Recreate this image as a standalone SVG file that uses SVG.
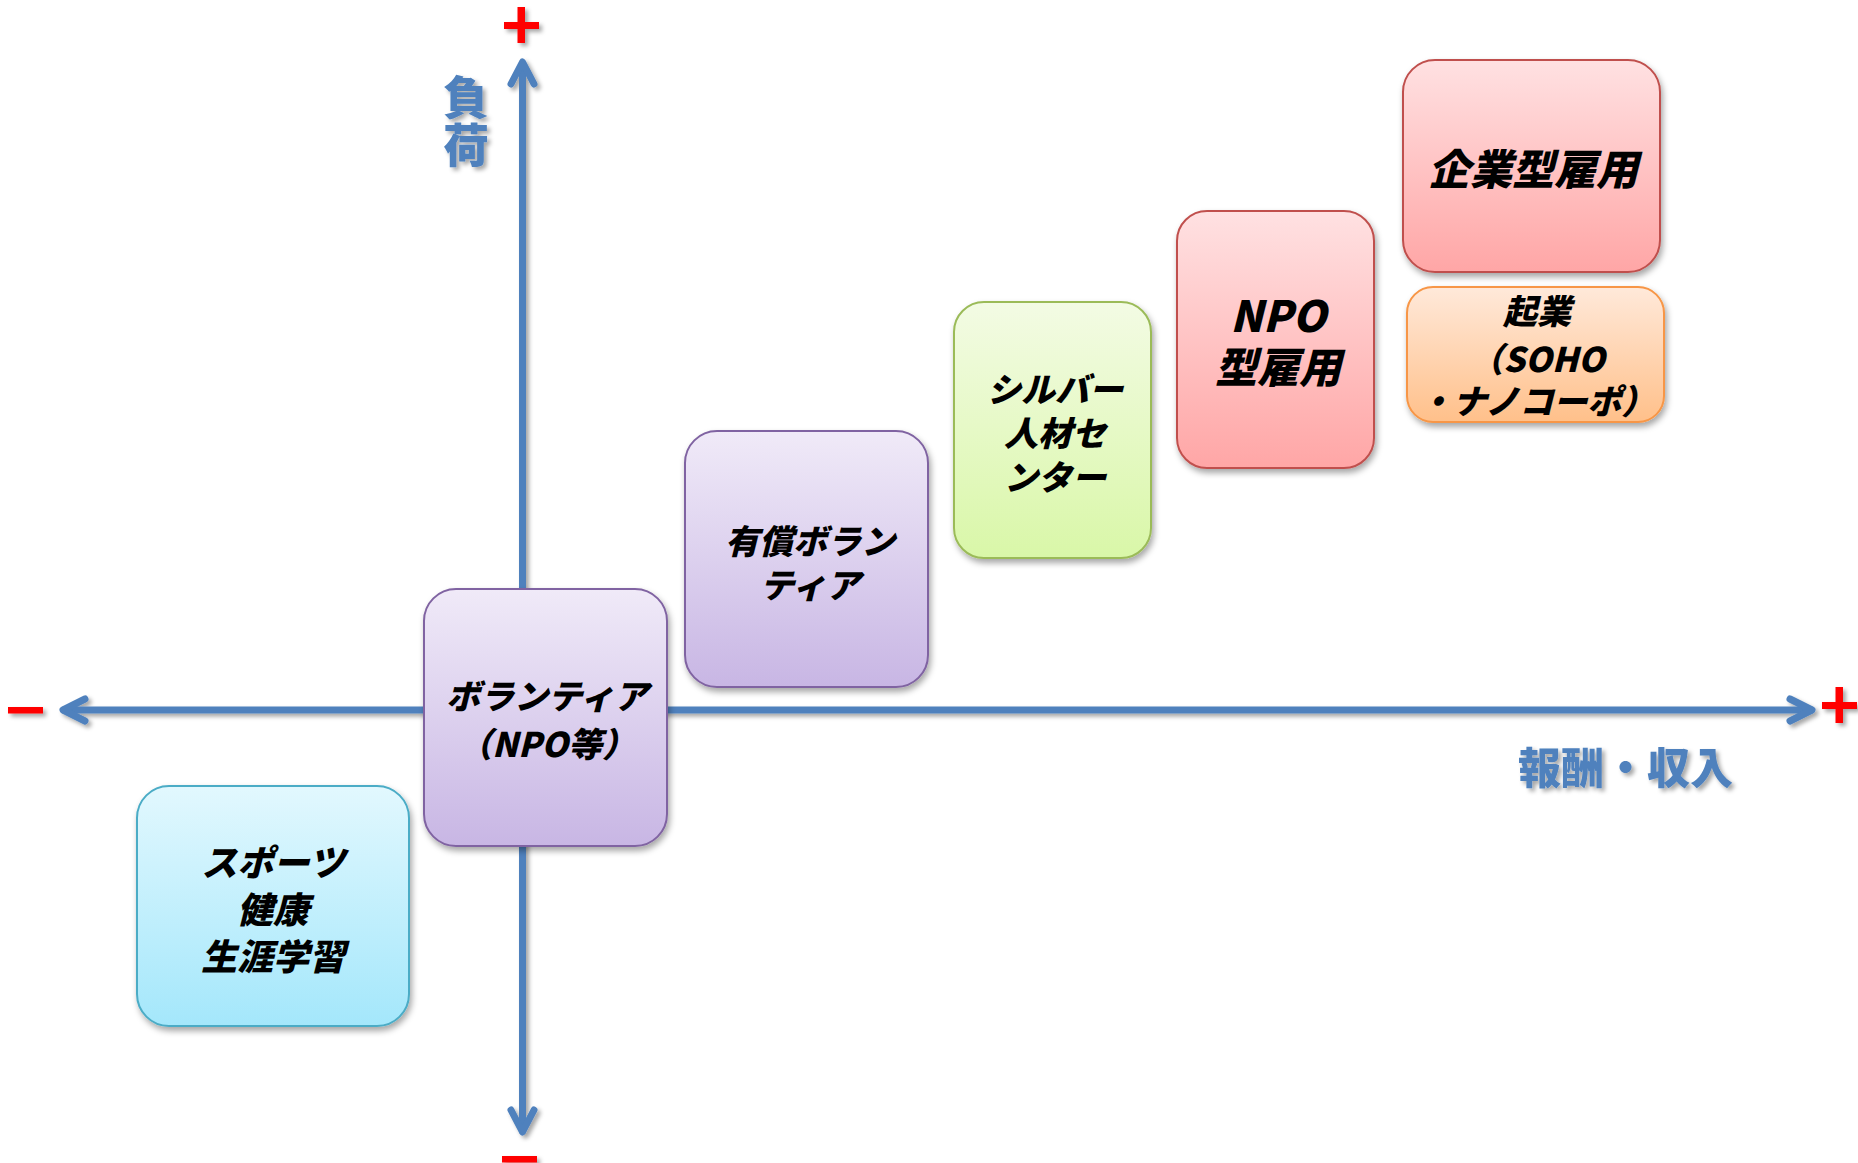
<svg xmlns="http://www.w3.org/2000/svg" width="1858" height="1163" viewBox="0 0 1858 1163">
<defs>
<style>
.ax{fill:none;stroke:#4F81BD;stroke-width:7;stroke-linecap:round;stroke-linejoin:round}
.sign{fill:#FF0000}
.lbl{font-family:"Noto Sans CJK JP","Noto Sans",sans-serif;font-weight:900;fill:#4F81BD}
.t{font-family:"Noto Sans CJK JP","Noto Sans",sans-serif;font-weight:900;font-style:italic;fill:#000;text-anchor:middle}
.box{stroke-width:2}
</style>
<filter id="sh" x="-20%" y="-20%" width="140%" height="140%">
<feDropShadow dx="2" dy="4" stdDeviation="3" flood-color="#000" flood-opacity="0.35"/>
</filter>
<filter id="shs" x="-20%" y="-20%" width="140%" height="140%">
<feDropShadow dx="3" dy="3" stdDeviation="2" flood-color="#000" flood-opacity="0.35"/>
</filter>
<linearGradient id="gC" x1="0" y1="0" x2="0" y2="1"><stop offset="0" stop-color="#E2F8FE"/><stop offset="1" stop-color="#A4E7FB"/></linearGradient>
<linearGradient id="gP" x1="0" y1="0" x2="0" y2="1"><stop offset="0" stop-color="#F0EAF8"/><stop offset="1" stop-color="#C8B6E4"/></linearGradient>
<linearGradient id="gG" x1="0" y1="0" x2="0" y2="1"><stop offset="0" stop-color="#F3FBE4"/><stop offset="1" stop-color="#D9F7A8"/></linearGradient>
<linearGradient id="gR" x1="0" y1="0" x2="0" y2="1"><stop offset="0" stop-color="#FFE1E2"/><stop offset="1" stop-color="#FFA6A6"/></linearGradient>
<linearGradient id="gO" x1="0" y1="0" x2="0" y2="1"><stop offset="0" stop-color="#FFE9DA"/><stop offset="1" stop-color="#FFC08A"/></linearGradient>
</defs>
<rect width="1858" height="1163" fill="#FFFFFF"/>

<g id="connectors" filter="url(#shs)">
<line class="ax" x1="522.5" y1="64" x2="522.5" y2="1131"/>
<polyline class="ax" points="511,84 522.5,62 534,84"/>
<polyline class="ax" points="511,1110 522.5,1132 534,1110"/>
<line class="ax" x1="64" y1="710" x2="1811" y2="710"/>
<polyline class="ax" points="85,699 63,710 85,721"/>
<polyline class="ax" points="1790,699 1812,710 1790,721"/>
</g>

<g id="signs" filter="url(#shs)">
<rect class="sign" x="504" y="22" width="35" height="7"/>
<rect class="sign" x="517.5" y="7" width="7.5" height="36"/>
<rect class="sign" x="1822" y="702" width="35" height="7"/>
<rect class="sign" x="1835.5" y="687" width="7.5" height="36"/>
<rect class="sign" x="8" y="707" width="35" height="6.5"/>
<rect class="sign" x="502" y="1156" width="35" height="6.5"/>
</g>

<g id="axis-labels" filter="url(#shs)">
<text class="lbl" x="466" y="74" font-size="46" writing-mode="vertical-rl" letter-spacing="2">負荷</text>
<text class="lbl" x="1518" y="784" font-size="43">報酬・収入</text>
</g>

<g id="node-sports">
<rect class="box" x="137" y="786" width="272" height="240" rx="32" fill="url(#gC)" stroke="#4BACC6" filter="url(#sh)"/>
<text class="t" font-size="36"><tspan x="273" y="876">スポーツ</tspan><tspan x="273" y="923">健康</tspan><tspan x="273" y="970">生涯学習</tspan></text>
</g>

<g id="node-volunteer">
<rect class="box" x="424" y="589" width="243" height="257" rx="32" fill="url(#gP)" stroke="#8064A2" filter="url(#sh)"/>
<text class="t" font-size="34"><tspan x="547" y="709">ボランティア</tspan><tspan x="547" y="757">（NPO等）</tspan></text>
</g>

<g id="node-paid-volunteer">
<rect class="box" x="685" y="431" width="243" height="256" rx="32" fill="url(#gP)" stroke="#8064A2" filter="url(#sh)"/>
<text class="t" font-size="34"><tspan x="810" y="554">有償ボラン</tspan><tspan x="810" y="598">ティア</tspan></text>
</g>

<g id="node-silver">
<rect class="box" x="954" y="302" width="197" height="256" rx="30" fill="url(#gG)" stroke="#9BBB59" filter="url(#sh)"/>
<text class="t" font-size="34"><tspan x="1055" y="402">シルバー</tspan><tspan x="1055" y="446">人材セ</tspan><tspan x="1055" y="490">ンター</tspan></text>
</g>

<g id="node-npo-employment">
<rect class="box" x="1177" y="211" width="197" height="257" rx="30" fill="url(#gR)" stroke="#C0504D" filter="url(#sh)"/>
<text class="t"><tspan x="1278" y="332" font-size="43">NPO</tspan><tspan x="1278" y="383" font-size="42">型雇用</tspan></text>
</g>

<g id="node-corporate-employment">
<rect class="box" x="1403" y="60" width="257" height="212" rx="32" fill="url(#gR)" stroke="#C0504D" filter="url(#sh)"/>
<text class="t" font-size="42" x="1533" y="185">企業型雇用</text>
</g>

<g id="node-startup">
<rect class="box" x="1407" y="287" width="257" height="135" rx="26" fill="url(#gO)" stroke="#F79646" filter="url(#sh)"/>
<text class="t" font-size="34"><tspan x="1537" y="324">起業</tspan><tspan x="1537" y="372">（SOHO</tspan><tspan x="1537" y="414">・ナノコーポ）</tspan></text>
</g>
</svg>
